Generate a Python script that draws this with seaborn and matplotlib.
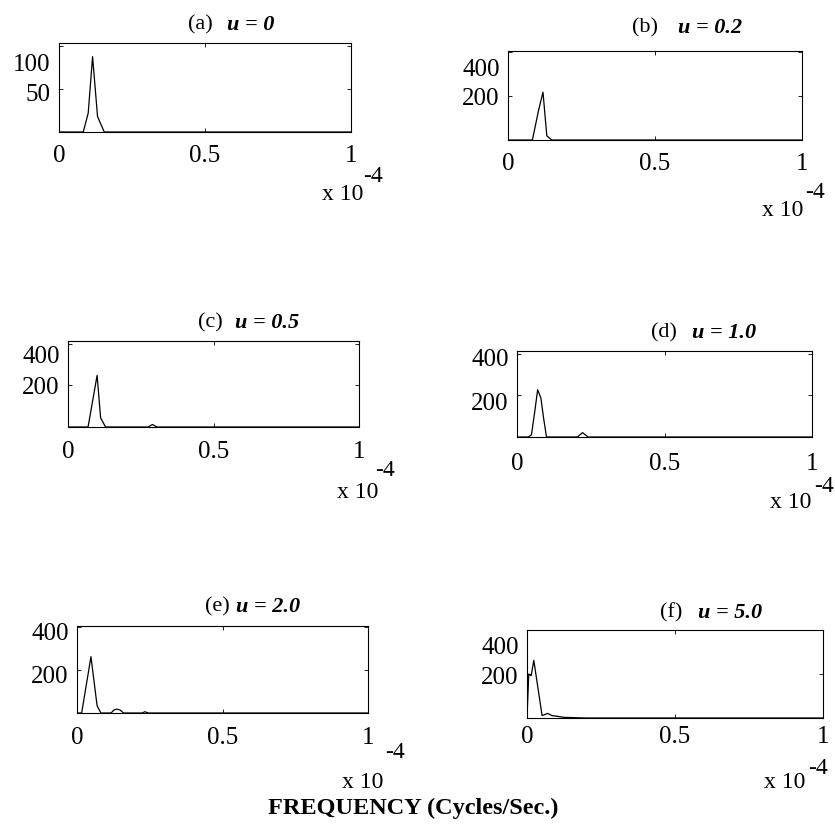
import matplotlib
matplotlib.use("Agg")
import matplotlib.pyplot as plt
import matplotlib.transforms as mtransforms
import pandas as pd
import seaborn as sns

# ---------------------------------------------------------------- data
# Spectra for increasing u; frequency in units of 1e-4 cycles/sec.
panel_tags = ["(a)", "(b)", "(c)", "(d)", "(e)", "(f)"]
u_labels = ["u = 0", "u = 0.2", "u = 0.5", "u = 1.0", "u = 2.0", "u = 5.0"]

freq_a = [0.0, 0.083, 0.100, 0.115, 0.132, 0.155, 1.0]
amp_a = [0, 0, 22, 88, 18, 0, 0]

freq_b = [0.0, 0.083, 0.104, 0.119, 0.132, 0.149, 1.0]
amp_b = [0, 0, 135, 217, 19, 0, 0]

freq_c = [0.0, 0.069, 0.100, 0.112, 0.115, 0.129, 0.275, 0.290, 0.306, 1.0]
amp_c = [0, 0, 248, 45, 36, 0, 0, 12, 0, 0]

freq_d = [0.0, 0.038, 0.049, 0.060, 0.070, 0.081, 0.090, 0.100, 0.205, 0.222, 0.241, 1.0]
amp_d = [0, 0, 10, 120, 227, 187, 92, 0, 0, 21, 0, 0]

freq_e = [0.0, 0.016, 0.048, 0.069, 0.082, 0.117, 0.127, 0.137, 0.148, 0.160,
          0.225, 0.233, 0.245, 1.0]
amp_e = [0, 0, 261, 34, 0, 0, 14, 18, 14, 0, 0, 6, 0, 0]

freq_f = [0.0, 0.006, 0.014, 0.023, 0.051, 0.059, 0.070, 0.084, 0.101, 0.124, 0.200, 1.0]
amp_f = [0, 200, 192, 262, 11, 15, 21, 11, 8, 3, 0, 0]

freqs = [freq_a, freq_b, freq_c, freq_d, freq_e, freq_f]
amps = [amp_a, amp_b, amp_c, amp_d, amp_e, amp_f]

yticks_a = [50, 100]
yticks_rest = [200, 400]
xticks = [0, 0.5, 1]
xtick_labels = ["0", "0.5", "1"]
axis_label = "FREQUENCY (Cycles/Sec.)"
exp_base = "x 10"
exp_power = "-4"

# -------------------------------------------------------------- layout
W, H = 835, 832
# box (left, top, right, bottom) px, y max, title anchor x/y px, title gap px,
# x label pad px, y label drops px (lower, upper), "x 10" px, "-4" px
layout = [
    dict(box=(59, 43, 351, 132), ymax=104, title=(220, 25), gap=15, xpad=13,
         ydrop=(3, 16), base=(343, 195), power=(373, 177)),
    dict(box=(508, 51, 802, 140), ymax=404, title=(668, 28), gap=20, xpad=13,
         ydrop=(1, 16), base=(783, 210), power=(815, 193)),
    dict(box=(68, 341, 359, 427), ymax=413, title=(229, 323), gap=12, xpad=14,
         ydrop=(0, 11), base=(358, 492), power=(385, 470)),
    dict(box=(517, 351, 812, 437), ymax=413, title=(684, 333), gap=15, xpad=16,
         ydrop=(6, 4), base=(791, 502), power=(824, 487)),
    dict(box=(77, 626, 368, 713), ymax=403, title=(233, 607), gap=7, xpad=14,
         ydrop=(5, 5), base=(363, 782), power=(395, 753)),
    dict(box=(527, 630, 823, 718), ymax=396, title=(690, 613), gap=15, xpad=8,
         ydrop=(2, 16), base=(785, 782), power=(818, 768)),
]

sns.set_theme(style="white")
plt.rcParams["font.family"] = ["Liberation Serif", "DejaVu Serif"]

fig = plt.figure(figsize=(W / 100, H / 100), dpi=100)
fig.patch.set_facecolor("white")


def fx(px):
    return px / W


def fy(py):
    return 1 - py / H


for i, spec in enumerate(layout):
    l, t, r, b = spec["box"]
    ax = fig.add_axes([fx(l), fy(b), (r - l) / W, (b - t) / H])
    df = pd.DataFrame({"freq": freqs[i], "amp": amps[i]})
    sns.lineplot(data=df, x="freq", y="amp", ax=ax, color="black",
                 linewidth=0.9, sort=False, estimator=None)
    ax.set_xlim(0, 1)
    ax.set_ylim(0, spec["ymax"])
    ax.set_xlabel("")
    ax.set_ylabel("")
    ax.set_xticks(xticks)
    ax.set_xticklabels(xtick_labels)
    yt = yticks_a if i == 0 else yticks_rest
    ax.set_yticks(yt)
    ax.set_yticklabels([str(v) for v in yt])
    for s in ax.spines.values():
        s.set_color("black")
        s.set_linewidth(0.8)
    ax.tick_params(axis="both", direction="in", length=3, width=0.6,
                   color="black", labelsize=18, labelcolor="black",
                   top=True, right=True, bottom=True, left=True)
    ax.tick_params(axis="x", pad=spec["xpad"] * 0.72)
    ax.tick_params(axis="y", pad=6)

    # lift/lower the y labels where the printed labels sit
    for lbl, drop in zip(ax.get_yticklabels(), spec["ydrop"]):
        off = mtransforms.ScaledTranslation(0, -drop / 100, fig.dpi_scale_trans)
        lbl.set_transform(lbl.get_transform() + off)

    # panel title: tag in roman, parameter in bold italic
    tx, ty = spec["title"]
    g = spec["gap"] / 2
    fig.text(fx(tx - g), fy(ty), panel_tags[i], ha="right", va="center",
             fontsize=16, color="black")
    fig.text(fx(tx + g), fy(ty), u_labels[i], ha="left", va="center",
             fontsize=16, color="black", fontweight="bold", fontstyle="italic")

    # axis multiplier
    bx, by = spec["base"]
    fig.text(fx(bx), fy(by), exp_base, ha="center", va="center",
             fontsize=17, color="black")
    px_, py_ = spec["power"]
    fig.text(fx(px_), fy(py_), exp_power, ha="center", va="center",
             fontsize=17, color="black")

fig.text(fx(413), fy(808), axis_label, ha="center", va="center",
         fontsize=17.5, fontweight="bold", color="black")

fig.savefig("out.png", dpi=100, facecolor="white")
